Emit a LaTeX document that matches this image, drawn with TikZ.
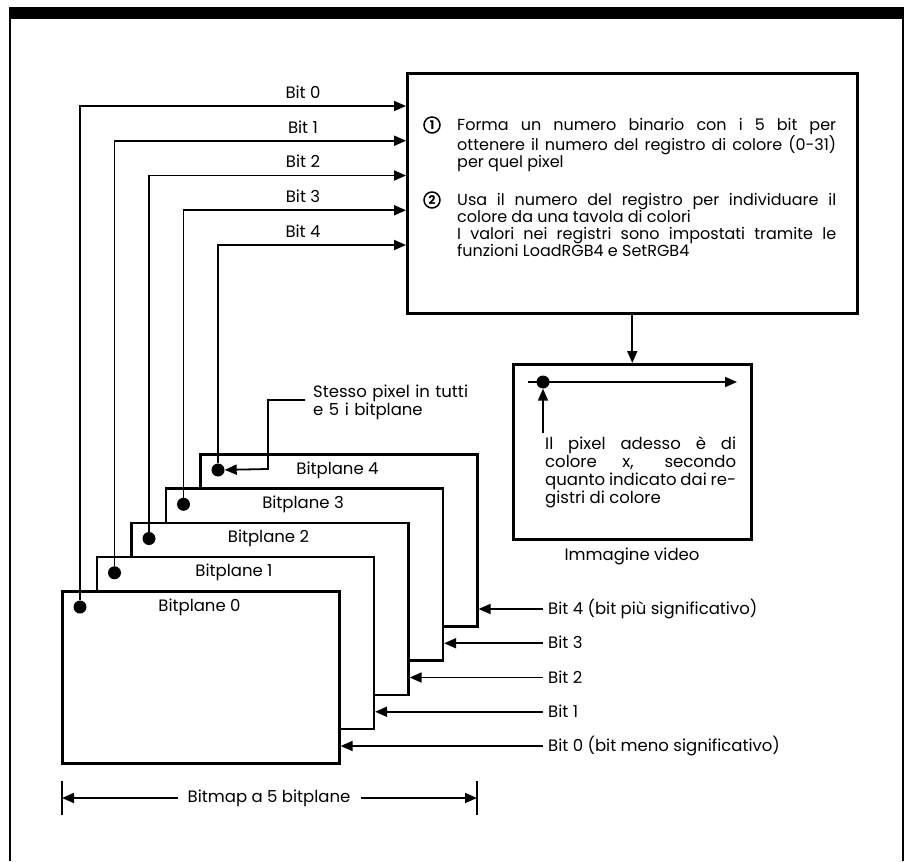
\documentclass[tikz,border=0pt]{standalone}
\usepackage{fontspec}
\setmainfont{Poppins}
\usetikzlibrary{arrows.meta}
\begin{document}
\begin{tikzpicture}[x=1pt,y=-1pt,
  font=\fontsize{16.5}{17}\selectfont,
  conn/.style={line width=1.8pt},
  arr/.style={line width=1.8pt,-{Triangle[length=12pt,width=10pt]}},
  boxed/.style={draw,line width=2.6pt,fill=white,inner sep=0pt,anchor=north west},
  plane/.style={boxed,minimum width=277pt,minimum height=172pt},
  dot/.style={circle,fill=black,inner sep=0pt,minimum size=13pt},
  lbl/.style={inner sep=0pt},
  numc/.style={circle,draw,line width=1.5pt,inner sep=0pt,minimum size=16pt,font=\fontsize{12}{12}\selectfont\bfseries},
  maintext/.style={lbl,anchor=base west,text width=379pt,align=justify,font=\fontsize{16}{17}\selectfont},
]
\useasboundingbox (0,0) rectangle (909,861);
% frame
\fill (9,7) rectangle (904,19);
\draw[line width=2pt] (10,19) -- (10,861);
\draw[line width=2pt] (903,19) -- (903,861);

% main box
\node[boxed,minimum width=450pt,minimum height=240pt] (main) at (406,72) {};
\node[numc] (c1) at (432,125) {1};
\node[numc] (c2) at (432,200) {2};
\node[maintext] (t1) at (457,130.5)
  {Forma un numero binario con i 5 bit per\linebreak ottenere il numero del registro di colore (0-31)\linebreak per quel pixel};
\node[maintext] (t2) at (457,205.5)
  {Usa il numero del registro per individuare il\linebreak colore da una tavola di colori\newline I valori nei registri sono impostati tramite le\linebreak funzioni LoadRGB4 e SetRGB4};

% bitplanes (back to front)
\foreach \k in {4,3,2,1,0} {
  \node[plane] (p\k) at ({61+34.5*\k},{590-34.25*\k}) {};
  \node[lbl] (l\k) at ({61+34.5*\k+138.5},{590-34.25*\k+17}) {Bitplane \k};
  \node[dot] (d\k) at ({61+34.5*\k+19},{590-34.25*\k+17}) {};
}

% bit lines to the main box
\foreach \k in {0,1,2,3,4} {
  \coordinate (in\k) at (406,{106+34.75*\k});
  \draw[arr] (d\k) |- (in\k);
  \node[lbl] (b\k) at (303,{106+34.75*\k-14}) {Bit \k};
}

% right side labels
\foreach \k/\txt in {4/{Bit 4 (bit più significativo)},3/{Bit 3},2/{Bit 2},1/{Bit 1},0/{Bit 0 (bit meno significativo)}} {
  \coordinate (r\k) at (543,{590-34.25*\k+172-16});
  \draw[arr] (r\k) -- (r\k -| p\k.east);
  \node[lbl,anchor=base west] (rl\k) at (548,{590-34.25*\k+172-16+5.5}) {\txt};
}

% same pixel note
\node[lbl,anchor=base west,text width=170pt,align=left,font=\fontsize{16.5}{14.5}\selectfont] (same) at (313,397.5)
  {Stesso pixel in tutti\\e 5 i bitplane};
\coordinate (s0) at (305,400);
\coordinate (s1) at (268,469);
\draw[arr] (s0) -| (s1) -- (d4);

% video image
\node[boxed,minimum width=238pt,minimum height=175pt] (vid) at (512,363) {};
\draw[arr] (main.south) -- (vid.north);
\node[dot] (vd) at (543,382) {};
\coordinate (vl) at (528,382);
\coordinate (vr) at (737,382);
\coordinate (vu) at (543,433);
\draw[arr] (vl) -- (vr);
\draw[arr] (vu) -- (vd);
\node[lbl,anchor=base west,text width=191pt,align=justify,font=\fontsize{16.5}{18}\selectfont] (vt) at (545,449.5)
  {Il pixel adesso è di\linebreak colore x, secondo\linebreak quanto indicato dai re-\linebreak gistri di colore};
\node[lbl] (vcap) at (632,556) {Immagine video};

% dimension line
\coordinate (dl) at (62,798);
\coordinate (dr) at (477,798);
\draw[line width=1.6pt] (62,781) -- (62,815);
\draw[line width=1.6pt] (477,781) -- (477,815);
\node[inner sep=10pt] (bm) at (269,798) {Bitmap a 5 bitplane};
\draw[arr] (bm.west) -- (dl);
\draw[arr] (bm.east) -- (dr);
\end{tikzpicture}
\end{document}
